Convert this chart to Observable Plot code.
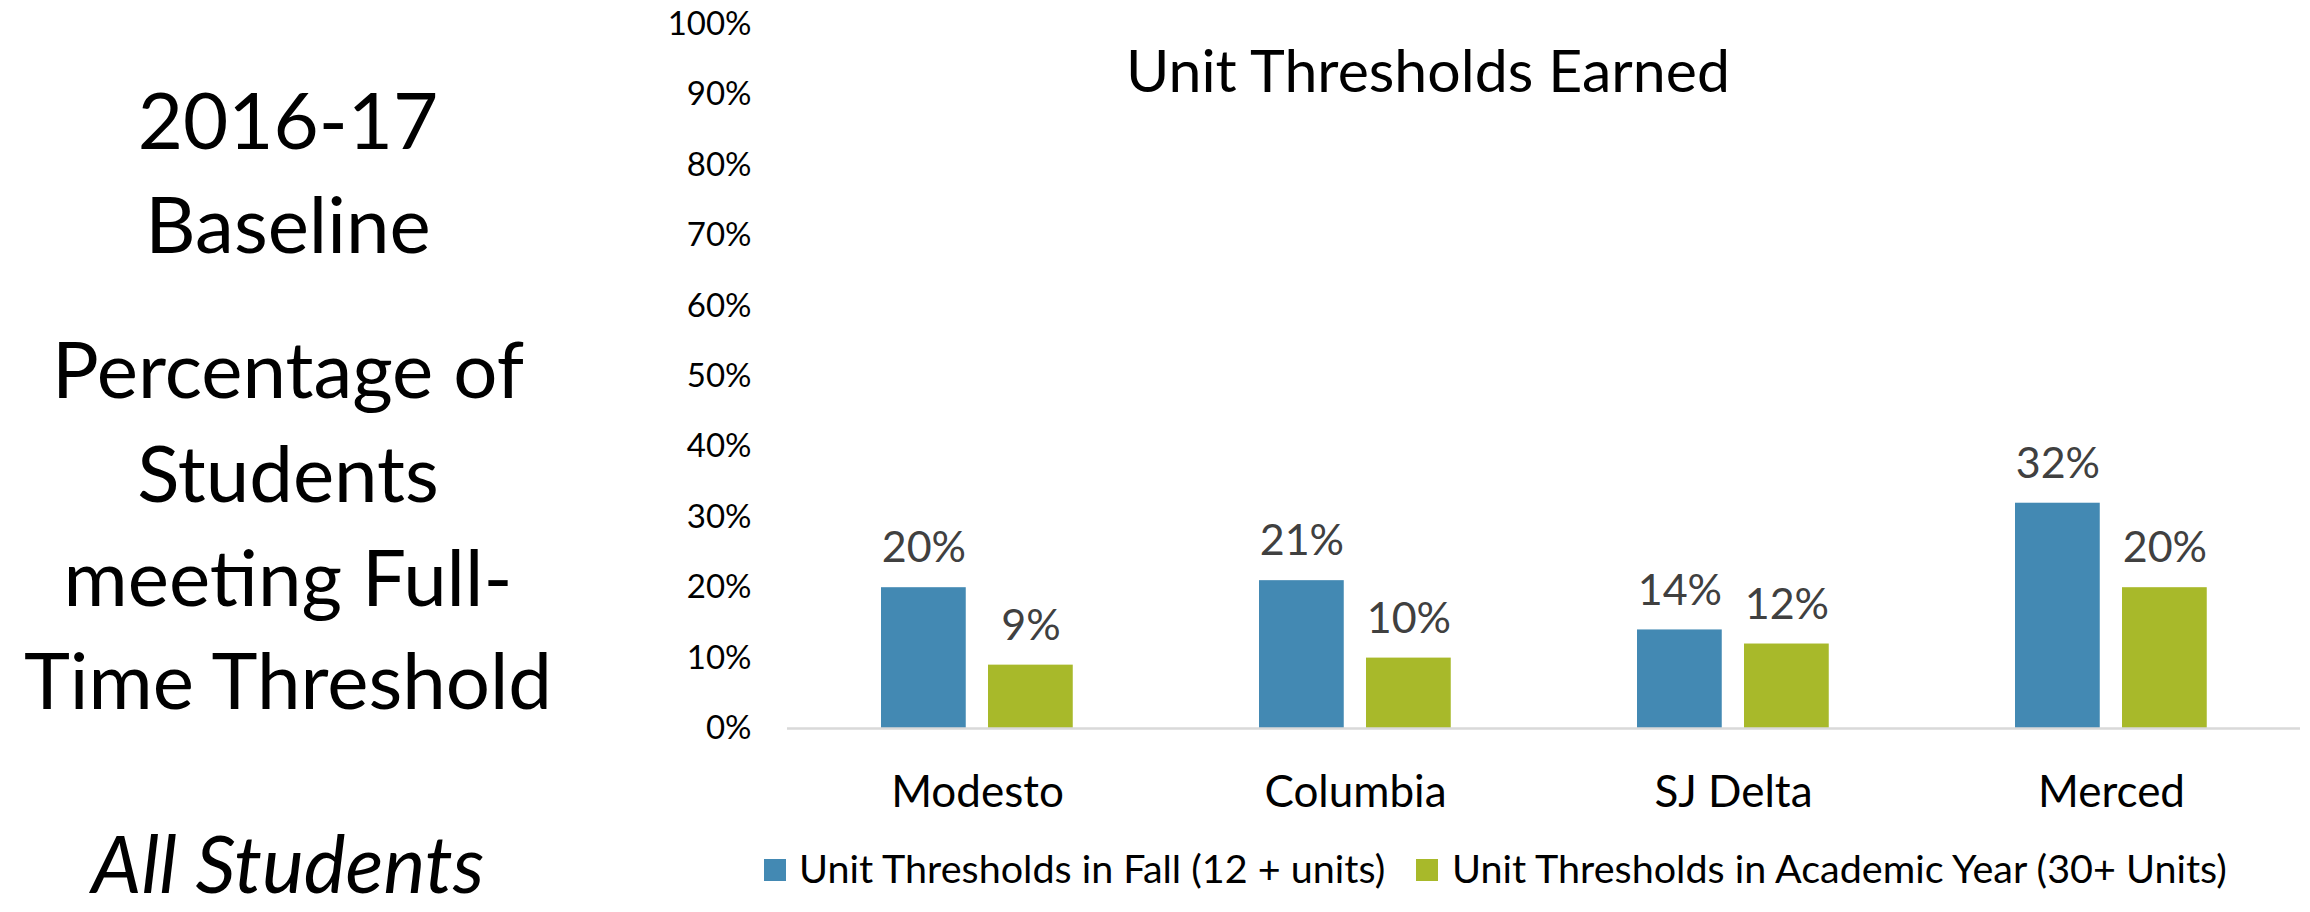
<!DOCTYPE html>
<html>
<head>
<meta charset="utf-8">
<script src="https://cdn.jsdelivr.net/npm/d3@7"></script>
<script src="https://cdn.jsdelivr.net/npm/@observablehq/plot@0.6"></script>
<style>
  html, body { margin: 0; padding: 0; background: #fff; }
  #wrap { position: relative; width: 2310px; height: 912px; overflow: hidden; font-family: Lato, "Open Sans", sans-serif; }
  #chart { position: absolute; left: 0; top: 0; }
  .side { position: absolute; left: 0; width: 576px; text-align: center; font-size: 78px; line-height: 104px; color: #000; white-space: nowrap; }
  #title { position: absolute; left: 1028px; width: 800px; top: 40px; text-align: center; font-size: 59px; line-height: 59px; color: #000; white-space: nowrap; }
  .lg-sw { position: absolute; top: 859px; width: 22px; height: 22px; }
  .lg-tx { position: absolute; top: 848px; font-size: 39.5px; line-height: 40px; color: #000; white-space: nowrap; }
</style>
</head>
<body>
<div id="wrap">
  <div id="chart"></div>
  <div class="side" style="top:67px">2016-17</div>
  <div class="side" style="top:171px">Baseline</div>
  <div class="side" style="top:316px">Percentage of</div>
  <div class="side" style="top:420px">Students</div>
  <div class="side" style="top:524px">meeting Full-</div>
  <div class="side" style="top:627px">Time Threshold</div>
  <div class="side" style="top:834px;font-style:italic;font-size:79px;line-height:58px">All Students</div>
  <div id="title">Unit Thresholds Earned</div>
  <div id="legend"></div>
</div>
<script>
const categories = ["Modesto", "Columbia", "SJ Delta", "Merced"];
const fallValues = [0.20, 0.21, 0.14, 0.32];
const yearValues = [0.09, 0.10, 0.12, 0.20];
const seriesNames = ["Unit Thresholds in Fall (12 + units)", "Unit Thresholds in Academic Year (30+ Units)"];
const seriesColors = ["#4389b3", "#a8b92a"];
const yTicks = [0, 0.1, 0.2, 0.3, 0.4, 0.5, 0.6, 0.7, 0.8, 0.9, 1.0];

const rows = categories.map((c, i) => ({category: c, fall: fallValues[i], year: yearValues[i]}));
const pct = d3.format(".0%");

const chart = Plot.plot({
  width: 2310,
  height: 912,
  marginLeft: 787,
  marginRight: 10,
  marginTop: 24,
  marginBottom: 184,
  style: {fontFamily: "Lato, 'Open Sans', sans-serif", background: "white", color: "#000"},
  x: {domain: categories, padding: 0},
  y: {domain: [0, 1]},
  marks: [
    Plot.axisY({ticks: yTicks, tickFormat: pct, tickSize: 0, tickPadding: 36, fontSize: 33, label: null, fill: "#000"}),
    Plot.axisX({tickSize: 0, tickPadding: 47, fontSize: 44, label: null, fill: "#000"}),
    Plot.barY(rows, {x: "category", y: "fall", fill: seriesColors[0], insetLeft: 93, insetRight: 200.25}),
    Plot.barY(rows, {x: "category", y: "year", fill: seriesColors[1], insetLeft: 200, insetRight: 93.25}),
    Plot.ruleY([0], {stroke: "#d9d9d9", strokeWidth: 2.5}),
    Plot.text(rows, {x: "category", y: "fall", text: d => pct(d.fall), dx: -53.6, dy: -39, fontSize: 43, fill: "#404040"}),
    Plot.text(rows, {x: "category", y: "year", text: d => pct(d.year), dx: 53.4, dy: -39, fontSize: 43, fill: "#404040"})
  ]
});
document.getElementById("chart").appendChild(chart);

const legend = document.getElementById("legend");
const swLeft = [764, 1416];
const txLeft = [799, 1452];
seriesNames.forEach((name, i) => {
  const sw = document.createElement("div");
  sw.className = "lg-sw";
  sw.style.left = swLeft[i] + "px";
  sw.style.background = seriesColors[i];
  legend.appendChild(sw);
  const tx = document.createElement("div");
  tx.className = "lg-tx";
  tx.style.left = txLeft[i] + "px";
  tx.textContent = name;
  legend.appendChild(tx);
});
</script>
</body>
</html>
